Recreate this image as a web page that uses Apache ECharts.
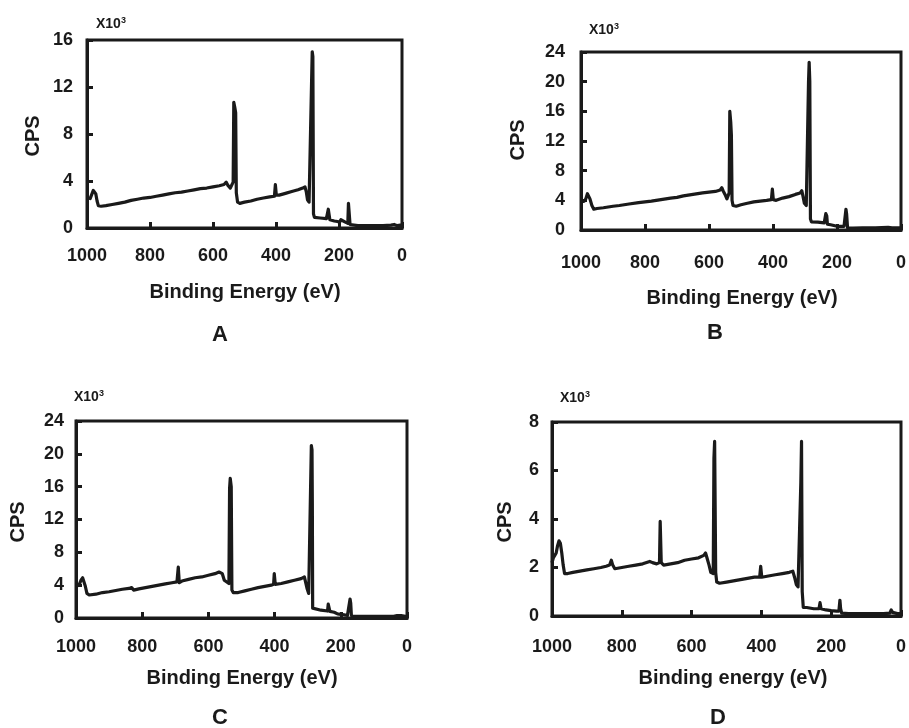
<!DOCTYPE html>
<html>
<head>
<meta charset="utf-8">
<script src="https://cdn.jsdelivr.net/npm/echarts@6/dist/echarts.min.js"></script>
<style>
  html, body { margin: 0; padding: 0; background: #fff; }
  #xps_chart { width: 909px; height: 728px; }
</style>
</head>
<body>
<div id="xps_chart"></div>
<script>
// XPS 全谱数据 [结合能 eV, 计数 x10^3]
var spectrum_a = [
    [1000,2.6],[995,2.7],[990,2.5],[985,2.6],[980,3.2],[976,3.3],[972,2.9],[968,2.3],[964,1.9],[955,1.85],
    [940,1.9],[920,2.0],[900,2.1],[880,2.2],[860,2.35],[840,2.45],[820,2.55],[800,2.6],[780,2.7],[760,2.8],
    [740,2.9],[720,3.0],[700,3.05],[680,3.15],[660,3.25],[640,3.35],[620,3.4],[600,3.5],[580,3.6],[565,3.7],
    [558,3.9],[552,3.6],[545,3.4],[540,3.3],[536,3.9],[534,10.7],[531,10.3],[528,9.8],[526,3.0],[522,2.2],
    [515,2.1],[500,2.2],[480,2.3],[460,2.45],[440,2.55],[420,2.65],[405,2.7],[402,3.7],[399,2.8],[390,2.8],
    [370,2.95],[350,3.1],[330,3.25],[315,3.4],[308,3.5],[304,3.1],[300,2.4],[295,2.2],[290,2.3],[287,12.5],
    [285,15.0],[283,14.6],[281,1.2],[278,0.9],[260,0.85],[240,0.8],[236,0.7],[234,1.6],[231,1.5],[229,0.7],
    [215,0.6],[205,0.55],[198,0.5],[194,0.7],[189,0.6],[180,0.5],[172,0.4],[170,2.1],[168,1.4],[165,0.3],
    [162,0.2],[140,0.2],[100,0.2],[60,0.2],[35,0.25],[30,0.35],[25,0.3],[15,0.2],[5,0.25],[0,0.2]
];
var spectrum_b = [
    [1000,3.8],[995,4.0],[990,3.9],[985,4.2],[980,4.9],[976,4.8],[972,4.2],[966,3.3],[960,2.8],[950,2.9],
    [930,3.0],[900,3.2],[880,3.3],[850,3.5],[820,3.7],[800,3.8],[780,3.9],[750,4.1],[720,4.3],[700,4.4],
    [680,4.6],[650,4.8],[620,5.0],[600,5.1],[580,5.2],[565,5.4],[560,5.7],[556,5.3],[550,4.8],[544,4.2],
    [540,4.0],[537,5.0],[535,16.0],[532,14.5],[530,12.8],[528,4.0],[525,3.3],[515,3.2],[500,3.4],[480,3.6],
    [460,3.8],[440,3.9],[420,4.0],[405,4.1],[402,5.5],[399,4.1],[390,4.0],[370,4.3],[350,4.5],[330,4.8],
    [315,5.0],[310,5.3],[306,4.5],[302,3.6],[296,3.3],[291,3.5],[289,20.0],[287,22.6],[285,20.0],[283,1.5],
    [280,1.1],[260,1.05],[240,0.95],[237,0.9],[235,2.2],[232,1.9],[230,0.8],[220,0.7],[210,0.6],[200,0.5],
    [190,0.5],[178,0.5],[174,0.6],[172,2.8],[170,2.2],[167,0.3],[163,0.2],[150,0.25],[120,0.3],[80,0.3],
    [40,0.35],[34,0.45],[28,0.3],[10,0.3],[0,0.3]
];
var spectrum_c = [
    [1000,3.8],[995,4.0],[990,4.1],[985,4.6],[980,4.9],[976,4.8],[972,3.9],[967,3.0],[960,2.8],[940,2.9],
    [920,3.1],[900,3.2],[880,3.35],[860,3.5],[840,3.6],[832,3.7],[826,3.4],[810,3.55],[790,3.7],[770,3.85],
    [750,4.0],[730,4.15],[710,4.3],[695,4.4],[691,6.2],[688,4.3],[680,4.5],[660,4.7],[640,4.9],[620,5.0],
    [600,5.2],[580,5.4],[568,5.6],[563,5.8],[558,5.4],[552,4.6],[547,4.4],[538,4.2],[536,15.8],[534,17.0],
    [531,16.0],[529,3.4],[525,3.1],[510,3.1],[490,3.3],[470,3.5],[450,3.7],[430,3.85],[410,4.0],[403,4.1],
    [401,5.4],[398,4.1],[380,4.2],[360,4.4],[340,4.6],[320,4.8],[310,5.0],[305,4.8],[302,3.6],[297,3.0],
    [292,3.2],[289,21.0],[287,20.5],[286,14.0],[285,1.2],[282,1.0],[260,0.95],[240,0.85],[238,1.7],[235,1.6],
    [233,0.8],[220,0.7],[210,0.5],[200,0.45],[190,0.4],[180,0.3],[174,0.35],[172,2.3],[170,1.8],[168,0.3],
    [160,0.2],[120,0.2],[80,0.2],[40,0.2],[30,0.3],[25,0.4],[18,0.3],[5,0.2],[0,0.2]
];
var spectrum_d = [
    [1000,2.2],[996,2.4],[992,2.5],[988,2.6],[984,2.9],[980,3.1],[976,3.0],[972,2.6],[968,2.1],[964,1.75],
    [955,1.75],[940,1.8],[920,1.85],[900,1.9],[880,1.95],[860,2.0],[845,2.05],[835,2.1],[830,2.3],[826,2.1],
    [820,1.95],[800,2.0],[780,2.05],[760,2.1],[740,2.15],[720,2.25],[712,2.2],[700,2.15],[692,2.2],[690,3.9],
    [687,2.2],[680,2.1],[660,2.15],[640,2.2],[620,2.3],[600,2.35],[580,2.4],[565,2.5],[560,2.6],[556,2.4],
    [550,2.1],[545,1.8],[538,1.75],[536,6.5],[534,7.2],[531,1.8],[528,1.4],[520,1.35],[500,1.4],[480,1.45],
    [460,1.5],[440,1.55],[420,1.6],[405,1.6],[402,2.05],[399,1.6],[380,1.65],[360,1.7],[340,1.75],[320,1.8],
    [310,1.85],[305,1.6],[300,1.3],[295,1.2],[290,1.25],[287,5.5],[285,7.2],[283,1.0],[280,0.35],[270,0.35],
    [250,0.3],[235,0.3],[232,0.55],[229,0.3],[215,0.25],[200,0.22],[185,0.2],[178,0.2],[175,0.65],[173,0.3],
    [170,0.12],[150,0.1],[100,0.1],[50,0.1],[32,0.12],[28,0.25],[24,0.15],[10,0.1],[0,0.1]
];

var panel_letters = ['A', 'B', 'C', 'D'];
var x_names = ['Binding Energy (eV)', 'Binding Energy (eV)', 'Binding Energy (eV)', 'Binding energy (eV)'];
var y_max = [16, 24, 24, 8];
var y_interval = [4, 4, 4, 2];

var spectra = [spectrum_a, spectrum_b, spectrum_c, spectrum_d];

// 各子图的位置
var grids = [
    { left: 87, top: 40, width: 315, height: 188 },
    { left: 581, top: 52, width: 323, height: 178 },
    { left: 76, top: 421, width: 331, height: 197 },
    { left: 552, top: 422, width: 353, height: 194 }
];
var x_label_margin = [19, 24, 20, 22];
var y_label_margin = [14, 16, 12, 13];
var name_pos = [[245, 292], [742, 298], [242, 678], [733, 678]];
var letter_pos = [[220, 335], [715, 333], [220, 718], [718, 718]];
var cps_pos = [[33, 136], [518, 140], [18, 522], [505, 522]];
var unit_pos = [[96, 24], [589, 30], [74, 397], [560, 398]];

var font = '"Liberation Sans", Arial, sans-serif';
var ink = '#1a1a1a';

var xps_chart = echarts.init(document.getElementById('xps_chart'));

var option = {
    backgroundColor: '#ffffff',
    animation: false,
    grid: [],
    xAxis: [],
    yAxis: [],
    series: [],
    graphic: []
};

for (var i = 0; i < 4; i++) {
    option.grid.push({
        left: grids[i].left,
        top: grids[i].top,
        width: grids[i].width,
        height: grids[i].height,
        show: true,
        borderColor: ink,
        borderWidth: 3,
        containLabel: false
    });
    option.xAxis.push({
        type: 'value',
        gridIndex: i,
        inverse: true,
        min: 0,
        max: 1000,
        interval: 200,
        axisLine: { show: true, onZero: false, lineStyle: { color: ink, width: 3 } },
        axisTick: { show: true, inside: true, length: 6, lineStyle: { color: ink, width: 3 } },
        axisLabel: {
            color: ink, fontFamily: font, fontWeight: 'bold', fontSize: 18, margin: x_label_margin[i],
            formatter: function (v) { return String(v); }
        },
        splitLine: { show: false }
    });
    option.yAxis.push({
        type: 'value',
        gridIndex: i,
        position: 'left',
        min: 0,
        max: y_max[i],
        interval: y_interval[i],
        axisLine: { show: true, onZero: false, lineStyle: { color: ink, width: 3 } },
        axisTick: { show: true, inside: true, length: 6, lineStyle: { color: ink, width: 3 } },
        axisLabel: { color: ink, fontFamily: font, fontWeight: 'bold', fontSize: 18, margin: y_label_margin[i] },
        splitLine: { show: false }
    });
    option.series.push({
        name: panel_letters[i],
        type: 'line',
        xAxisIndex: i,
        yAxisIndex: i,
        data: spectra[i],
        showSymbol: false,
        smooth: false,
        lineStyle: { color: ink, width: 3.2, join: 'round' },
        clip: true
    });

    // 轴标题、面板字母和单位
    option.graphic.push({
        type: 'text',
        x: name_pos[i][0],
        y: name_pos[i][1],
        style: {
            text: x_names[i], fill: ink, font: 'bold 20px ' + font,
            align: 'center', verticalAlign: 'middle'
        }
    });
    option.graphic.push({
        type: 'text',
        x: letter_pos[i][0],
        y: letter_pos[i][1],
        style: {
            text: panel_letters[i], fill: ink, font: 'bold 22px ' + font,
            align: 'center', verticalAlign: 'middle'
        }
    });
    option.graphic.push({
        type: 'text',
        x: cps_pos[i][0],
        y: cps_pos[i][1],
        rotation: Math.PI / 2,
        style: {
            text: 'CPS', fill: ink, font: 'bold 20px ' + font,
            align: 'center', verticalAlign: 'middle'
        }
    });
    option.graphic.push({
        type: 'text',
        x: unit_pos[i][0],
        y: unit_pos[i][1],
        style: {
            text: 'X10{sup|3}',
            fill: ink, font: 'bold 14px ' + font,
            align: 'left', verticalAlign: 'middle',
            rich: { sup: { font: 'bold 9px ' + font, fill: ink, verticalAlign: 'top', padding: [0, 0, 6, 0] } }
        }
    });
}

xps_chart.setOption(option);
</script>
</body>
</html>
